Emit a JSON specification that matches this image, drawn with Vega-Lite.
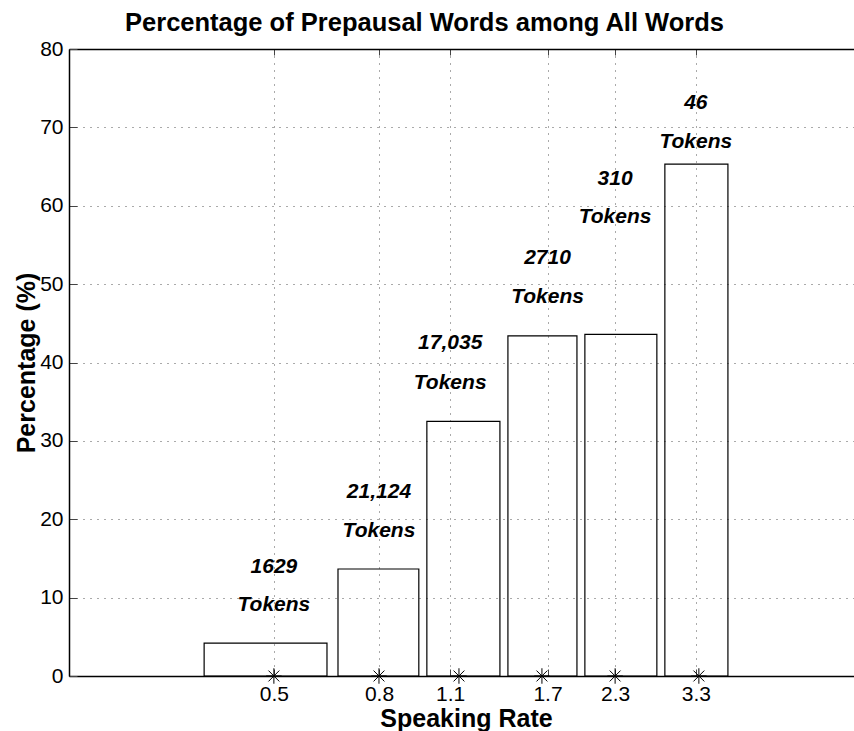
{
  "$schema": "https://vega.github.io/schema/vega-lite/v6.json",
  "width": 785,
  "height": 627,
  "autosize": "none",
  "padding": {"left": 69, "top": 49, "right": 0, "bottom": 55},
  "background": "white",
  "config": {"view": {"stroke": null}, "font": "Liberation Sans"},
  "title": {
    "text": "Percentage of Prepausal Words among All Words",
    "fontSize": 25.5,
    "fontWeight": "bold",
    "font": "Liberation Sans",
    "color": "black",
    "anchor": "middle",
    "frame": "group",
    "dx": -37,
    "offset": 2
  },
  "data": {
    "values": [
      {"rate_lo": 0.366, "rate_hi": 0.634, "pct": 4.2, "tick": 0.5, "mean_rate": 0.5, "tokens": "1629", "count_y": 13.9, "tokens_y": 9.1},
      {"rate_lo": 0.666, "rate_hi": 0.956, "pct": 13.65, "tick": 0.8, "mean_rate": 0.8, "tokens": "21,124", "count_y": 23.5, "tokens_y": 18.5},
      {"rate_lo": 0.991, "rate_hi": 1.374, "pct": 32.5, "tick": 1.1, "mean_rate": 1.144, "tokens": "17,035", "count_y": 42.5, "tokens_y": 37.4},
      {"rate_lo": 1.424, "rate_hi": 1.939, "pct": 43.4, "tick": 1.7, "mean_rate": 1.658, "tokens": "2710", "count_y": 53.3, "tokens_y": 48.4},
      {"rate_lo": 2.009, "rate_hi": 2.772, "pct": 43.6, "tick": 2.3, "mean_rate": 2.3, "tokens": "310", "count_y": 63.4, "tokens_y": 58.6},
      {"rate_lo": 2.873, "rate_hi": 3.809, "pct": 65.3, "tick": 3.3, "mean_rate": 3.345, "tokens": "46", "count_y": 73.1, "tokens_y": 68.1}
    ]
  },
  "resolve": {"axis": {"x": "independent"}},
  "layer": [
    {
      "mark": {"type": "rect", "filled": false, "color": "black", "strokeWidth": 1.2},
      "encoding": {
        "x": {
          "field": "rate_lo",
          "type": "quantitative",
          "scale": {"type": "log", "domain": [0.2, 6.694], "nice": false, "zero": false},
          "axis": {
            "orient": "bottom",
            "values": [0.5, 0.8, 1.1, 1.7, 2.3, 3.3],
            "format": ".1f",
            "title": "Speaking Rate",
            "titleFontSize": 25,
            "titleFontWeight": "bold",
            "titleColor": "black",
            "titleX": 397,
            "titleY": 50,
            "titleAlign": "center",
            "titleBaseline": "alphabetic",
            "labelFontSize": 21,
            "labelColor": "black",
            "labelPadding": 14,
            "labelFlush": false,
            "labelOverlap": false,
            "tickSize": -7,
            "tickColor": "#444",
            "domainColor": "black",
            "domainWidth": 1.5,
            "grid": true,
            "gridDash": [1, 6],
            "gridColor": "#555",
            "gridOpacity": 1
          }
        },
        "x2": {"field": "rate_hi"},
        "y": {
          "field": "pct",
          "type": "quantitative",
          "scale": {"domain": [0, 80], "nice": false},
          "axis": {
            "orient": "left",
            "values": [0, 10, 20, 30, 40, 50, 60, 70, 80],
            "title": "Percentage (%)",
            "titleFontSize": 25,
            "titleFontWeight": "bold",
            "titleColor": "black",
            "titleAngle": -90,
            "titleX": -35,
            "titleY": 313.5,
            "titleAlign": "center",
            "titleBaseline": "alphabetic",
            "labelFontSize": 21,
            "labelColor": "black",
            "labelPadding": 14,
            "labelFlush": false,
            "labelOverlap": false,
            "tickSize": -8,
            "tickColor": "#444",
            "domainColor": "black",
            "domainWidth": 1.5,
            "grid": true,
            "gridDash": [1, 6],
            "gridColor": "#555",
            "gridOpacity": 1
          }
        },
        "y2": {"datum": 0}
      }
    },
    {
      "mark": {
        "type": "point",
        "shape": "M-1,0L1,0M0,-1L0,1M-0.7,-0.7L0.7,0.7M-0.7,0.7L0.7,-0.7",
        "filled": false,
        "color": "black",
        "strokeWidth": 1,
        "size": 240,
        "opacity": 1
      },
      "encoding": {
        "x": {
          "field": "mean_rate",
          "type": "quantitative",
          "axis": {
            "orient": "top",
            "values": [0.5, 0.8, 1.1, 1.7, 2.3, 3.3],
            "labels": false,
            "title": null,
            "tickSize": -6,
            "tickColor": "#444",
            "domainColor": "black",
            "domainWidth": 1.5,
            "grid": false
          }
        },
        "y": {"datum": 0, "type": "quantitative"}
      }
    },
    {
      "mark": {"type": "text", "fontSize": 21, "fontWeight": "bold", "fontStyle": "italic", "align": "center", "baseline": "middle", "color": "black"},
      "encoding": {
        "x": {"field": "tick", "type": "quantitative", "axis": null},
        "y": {"field": "count_y", "type": "quantitative"},
        "text": {"field": "tokens"}
      }
    },
    {
      "mark": {"type": "text", "fontSize": 21, "fontWeight": "bold", "fontStyle": "italic", "align": "center", "baseline": "middle", "color": "black"},
      "encoding": {
        "x": {"field": "tick", "type": "quantitative", "axis": null},
        "y": {"field": "tokens_y", "type": "quantitative"},
        "text": {"value": "Tokens"}
      }
    }
  ]
}
